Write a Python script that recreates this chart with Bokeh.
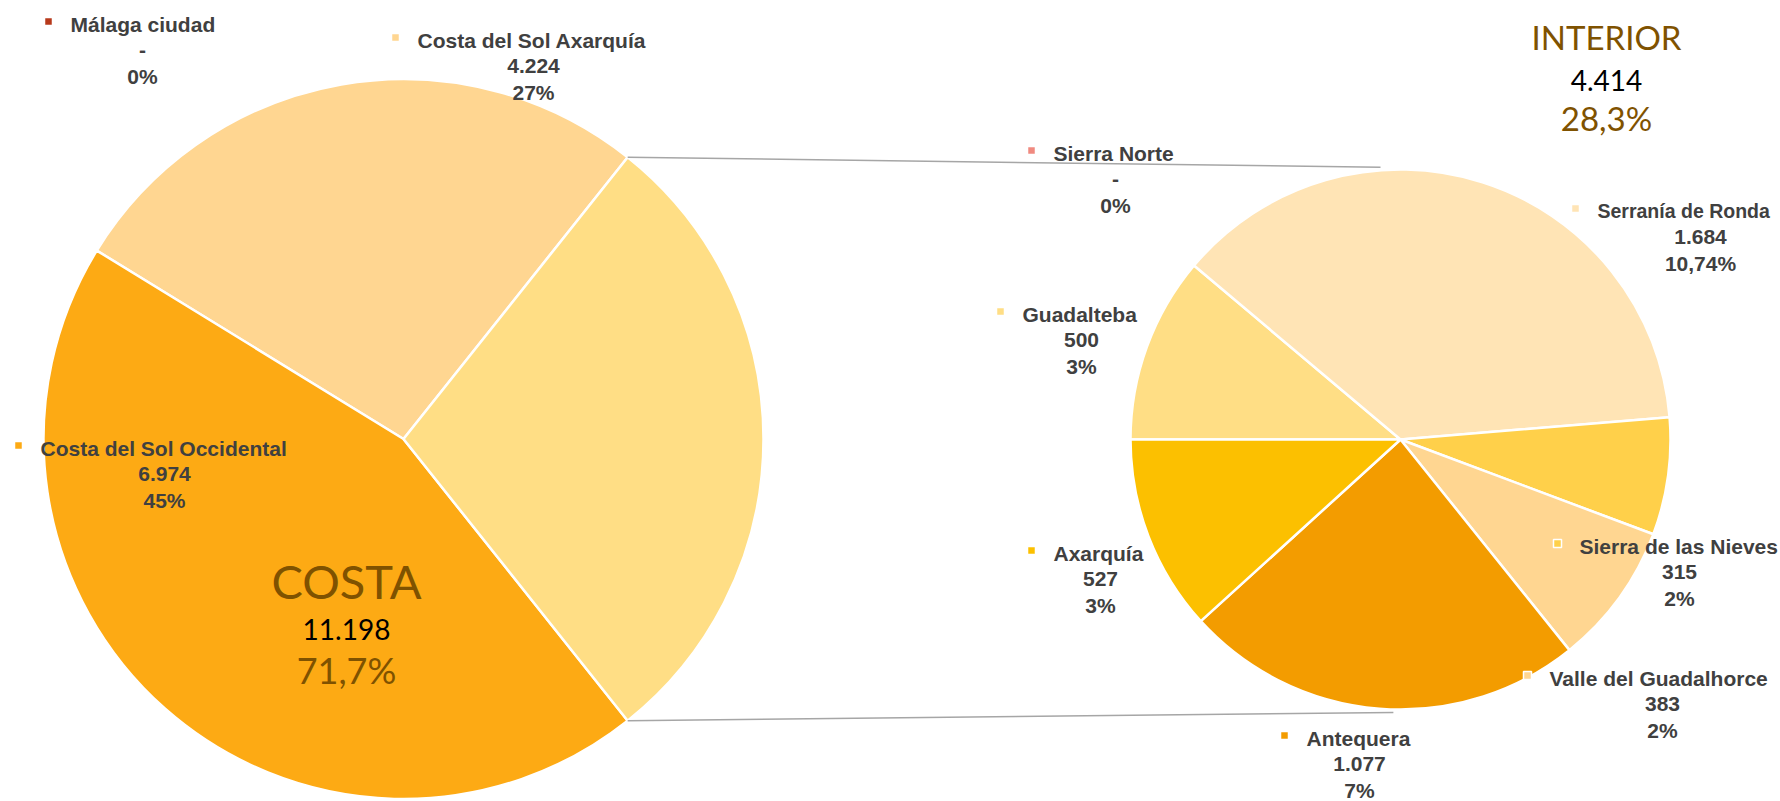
import numpy as np
from bokeh.plotting import figure
from bokeh.models import Range1d, ColumnDataSource
from bokeh.core.properties import value
from bokeh.embed import file_html
from bokeh.resources import INLINE

# ---------------- data ----------------
costa_names = ["Málaga ciudad", "Costa del Sol Axarquía", "Costa del Sol Occidental"]
costa_values = [0, 4224, 6974]
costa_value_text = ["-", "4.224", "6.974"]
costa_pct_text = ["0%", "27%", "45%"]

interior_names = ["Sierra Norte", "Guadalteba", "Serranía de Ronda", "Sierra de las Nieves",
                  "Valle del Guadalhorce", "Antequera", "Axarquía"]
interior_values = [0, 500, 1684, 315, 383, 1077, 527]
interior_value_text = ["-", "500", "1.684", "315", "383", "1.077", "527"]
interior_pct_text = ["0%", "3%", "10,74%", "2%", "2%", "7%", "3%"]

group_names = ["COSTA", "INTERIOR"]
group_value_text = ["11.198", "4.414"]
group_pct_text = ["71,7%", "28,3%"]

# ---------------- styles ----------------
costa_colors = ["#B7391B", "#FFD691", "#FDAA14"]
other_color = "#FFDE85"
interior_colors = ["#F08A80", "#FFDE85", "#FFE4B5", "#FFD04A", "#FFD691", "#F39C00", "#FCC000"]
LABEL_COLOR = "#404040"
BROWN = "#7F5200"

W, H = 1780, 801
def Y(sy):
    return H - sy

C1x, C1y, R1 = 403, Y(438.5), 360
C2x, C2y, R2 = 1400, Y(439), 270

p = figure(width=W, height=H, x_range=Range1d(0, W), y_range=Range1d(0, H),
           output_backend="svg", toolbar_location=None, min_border=0)
p.axis.visible = False
p.grid.visible = False
p.outline_line_color = None
p.background_fill_color = "white"

# ---------------- main pie ----------------
other_value = sum(interior_values)
total = sum(costa_values) + other_value
half = np.pi * other_value / total
cum = half + 2 * np.pi * np.cumsum([0] + costa_values) / total
src1 = ColumnDataSource(dict(
    start=[a for a, v in zip(cum[:-1], costa_values) if v > 0] + [-half],
    end=[a for a, v in zip(cum[1:], costa_values) if v > 0] + [half],
    color=[c for c, v in zip(costa_colors, costa_values) if v > 0] + [other_color],
))
p.wedge(x=C1x, y=C1y, radius=R1, start_angle="start", end_angle="end", direction="anticlock",
        fill_color="color", line_color="white", line_width=2.5, source=src1)

# ---------------- secondary pie (clockwise from the left) ----------------
cum2 = 2 * np.pi * np.cumsum([0] + interior_values) / other_value
src2 = ColumnDataSource(dict(
    start=[np.pi - b for b, v in zip(cum2[1:], interior_values) if v > 0],
    end=[np.pi - a for a, v in zip(cum2[:-1], interior_values) if v > 0],
    color=[c for c, v in zip(interior_colors, interior_values) if v > 0],
))
p.wedge(x=C2x, y=C2y, radius=R2, start_angle="start", end_angle="end", direction="anticlock",
        fill_color="color", line_color="white", line_width=2.5, source=src2)

# ---------------- connector lines ----------------
top_a2, bot_a2 = np.deg2rad(94.2), np.deg2rad(-91.5)
p.segment(x0=[C1x + R1 * np.cos(half), C1x + R1 * np.cos(-half)],
          y0=[C1y + R1 * np.sin(half), C1y + R1 * np.sin(-half)],
          x1=[C2x + (R2 + 3) * np.cos(top_a2), C2x + (R2 + 3) * np.cos(bot_a2)],
          y1=[C2y + (R2 + 3) * np.sin(top_a2), C2y + (R2 + 3) * np.sin(bot_a2)],
          line_color="#A6A6A6", line_width=1.5)

# ---------------- data labels ----------------
# (name left x, name baseline (screen y), centre x of value lines, name font size)
label_pos = {
    "Málaga ciudad": (70, 31, 142, 21),
    "Costa del Sol Axarquía": (417, 47, 533, 21),
    "Costa del Sol Occidental": (40, 455, 164, 21),
    "Sierra Norte": (1053, 160, 1115, 21),
    "Guadalteba": (1022, 321, 1081, 21),
    "Serranía de Ronda": (1597, 218, 1700, 19.5),
    "Sierra de las Nieves": (1579, 553, 1679, 21),
    "Valle del Guadalhorce": (1549, 685, 1662, 21),
    "Antequera": (1306, 745, 1359, 21),
    "Axarquía": (1053, 560, 1100, 21),
}
LINE = 26
CAP = 7.5
names = costa_names + interior_names
vals = costa_value_text + interior_value_text
pcts = costa_pct_text + interior_pct_text
cols = costa_colors + interior_colors

nx, ny, nfs, mx, my, vx, vy, py = [], [], [], [], [], [], [], []
for n in names:
    x0, b, cx, fs = label_pos[n]
    nx.append(x0); ny.append(Y(b - CAP)); nfs.append(f"{fs}px")
    mx.append(x0 - 22); my.append(Y(b - 10))
    vx.append(cx); vy.append(Y(b + LINE - CAP)); py.append(Y(b + 2 * LINE - CAP))

font = value("Liberation Sans")
p.scatter(x=mx, y=my, marker="square", size=8, fill_color=cols, line_color="white", line_width=1.5)
p.text(x=nx, y=ny, text=names, text_font=font, text_font_style="bold", text_font_size=nfs,
       text_color=LABEL_COLOR, text_align="left", text_baseline="middle")
p.text(x=vx, y=vy, text=vals, text_font=font, text_font_style="bold", text_font_size="21px",
       text_color=LABEL_COLOR, text_align="center", text_baseline="middle")
p.text(x=vx, y=py, text=pcts, text_font=font, text_font_style="bold", text_font_size="21px",
       text_color=LABEL_COLOR, text_align="center", text_baseline="middle")

# ---------------- group summaries ----------------
gfont = value("Lato")
gx = [346, 1606]
p.text(x=gx, y=[Y(580), Y(36)], text=group_names, text_font=gfont, text_font_size=["47px", "33px"],
       text_color=BROWN, text_align="center", text_baseline="middle")
p.text(x=gx, y=[Y(629), Y(79.5)], text=group_value_text, text_font=gfont, text_font_size=["28px", "28px"],
       text_color="black", text_align="center", text_baseline="middle")
p.text(x=gx, y=[Y(669), Y(117)], text=group_pct_text, text_font=gfont, text_font_size=["36px", "33px"],
       text_color=BROWN, text_align="center", text_baseline="middle")

open("out.html", "w").write(file_html(p, INLINE))
